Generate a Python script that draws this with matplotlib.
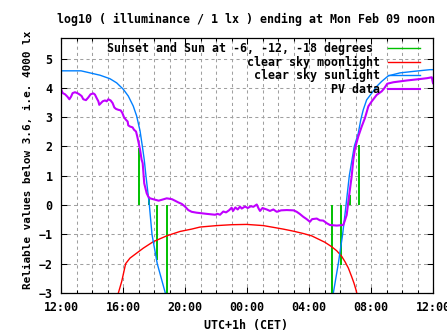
import numpy as np
import matplotlib
matplotlib.use("Agg")
import matplotlib.pyplot as plt
from matplotlib.lines import Line2D

# ---------------- data (hours since midnight of previous day; 24 = 00:00) -------------
tick_hours = [12, 16, 20, 24, 28, 32, 36]
tick_labels = ["12:00", "16:00", "20:00", "00:00", "04:00", "08:00", "12:00"]

pv_hours = [12.00, 12.11, 12.26, 12.41, 12.54, 12.65, 12.75, 12.90, 13.05, 13.18,
            13.33, 13.44, 13.61, 13.76, 13.91, 14.09, 14.19, 14.30, 14.41, 14.47,
            14.58, 14.69, 14.84, 14.95, 15.05, 15.20, 15.33, 15.44, 15.55, 15.70,
            15.85, 15.96, 16.06, 16.19, 16.30, 16.34, 16.45, 16.62, 16.71, 16.84,
            16.92, 17.01, 17.10, 17.20, 17.27, 17.37, 17.53, 17.63, 17.74, 17.95,
            18.30, 18.50, 18.82, 19.16, 19.35, 19.57, 19.79, 20.00, 20.21, 20.43,
            20.75, 21.08, 21.40, 21.94, 22.10, 22.26, 22.47, 22.65, 22.86, 23.01,
            23.10, 23.25, 23.40, 23.55, 23.66, 23.87, 24.05, 24.25, 24.41, 24.63,
            24.75, 24.84, 25.00, 25.10, 25.27, 25.48, 25.70, 25.92, 26.20, 26.56,
            27.00, 27.21, 27.40, 27.63, 27.85, 28.06, 28.20, 28.50, 28.70, 28.92,
            29.15, 29.35, 29.79, 30.21, 30.30, 30.43, 30.58, 30.75, 30.86, 30.97,
            31.18, 31.40, 31.61, 31.83, 32.05, 32.37, 32.69, 32.85, 33.05, 33.44,
            34.30, 35.16, 35.63, 35.92, 36.00]
pv_values = [3.96, 3.82, 3.78, 3.70, 3.61, 3.70, 3.82, 3.85, 3.82, 3.78,
             3.72, 3.61, 3.58, 3.67, 3.78, 3.81, 3.77, 3.65, 3.54, 3.42,
             3.48, 3.54, 3.57, 3.54, 3.61, 3.57, 3.48, 3.33, 3.28, 3.25,
             3.23, 3.14, 3.00, 2.91, 2.85, 2.72, 2.68, 2.65, 2.57, 2.51,
             2.34, 2.12, 1.89, 1.55, 1.43, 0.74, 0.40, 0.29, 0.23, 0.20,
             0.15, 0.18, 0.23, 0.20, 0.15, 0.09, 0.04, -0.05, -0.17, -0.23,
             -0.26, -0.28, -0.30, -0.33, -0.30, -0.33, -0.22, -0.25, -0.17, -0.09,
             -0.20, -0.08, -0.15, -0.05, -0.12, -0.05, -0.10, -0.04, -0.06, 0.02,
             -0.12, -0.20, -0.10, -0.12, -0.15, -0.20, -0.15, -0.23, -0.18, -0.17,
             -0.18, -0.23, -0.30, -0.40, -0.48, -0.57, -0.48, -0.46, -0.52, -0.53,
             -0.62, -0.68, -0.70, -0.68, -0.55, -0.34, 0.29, 0.97, 1.55, 1.94,
             2.34, 2.68, 2.97, 3.37, 3.54, 3.76, 3.88, 3.98, 4.14, 4.19,
             4.25, 4.30, 4.33, 4.36, 4.16]

sun_hours = [12.00, 13.29, 13.87, 14.52, 15.16, 15.59, 16.02, 16.34, 16.66, 16.88,
             17.10, 17.25, 17.37, 17.48, 17.70, 17.87, 18.21, 18.73, 18.85,
             29.45, 29.57, 29.89, 30.17, 30.39, 30.60, 30.92, 31.18, 31.34, 31.50,
             31.72, 32.05, 32.37, 32.69, 33.12, 33.87, 34.73, 35.81, 36.00]
sun_values = [4.58, 4.58, 4.51, 4.43, 4.31, 4.17, 3.95, 3.72, 3.38, 3.04,
              2.53, 2.00, 1.55, 1.00, 0.00, -1.00, -2.00, -3.00, -3.60,
              -3.60, -3.00, -2.00, -1.00, 0.00, 1.00, 2.00, 2.45, 2.91, 3.25,
              3.59, 3.82, 4.05, 4.22, 4.41, 4.51, 4.56, 4.62, 4.62]

moon_hours = [15.55, 15.70, 15.92, 16.17, 16.45, 16.88, 17.31, 17.95, 18.82, 19.68,
              20.43, 20.97, 22.05, 23.01, 23.98, 25.05, 25.70, 26.34, 26.99, 27.63,
              28.17, 28.60, 29.03, 29.46, 29.79, 30.11, 30.32, 30.54, 30.75, 30.90,
              31.03, 31.08, 31.15]
moon_values = [-3.40, -3.00, -2.60, -2.00, -1.81, -1.64, -1.47, -1.25, -1.05, -0.90,
               -0.82, -0.75, -0.70, -0.67, -0.66, -0.70, -0.76, -0.82, -0.89, -0.97,
               -1.05, -1.16, -1.27, -1.42, -1.56, -1.75, -1.93, -2.15, -2.44, -2.66,
               -2.89, -3.00, -3.30]

twilight_hours = [17.05, 17.66, 18.21, 18.86, 29.46, 30.05, 30.65, 31.25]
twilight_tops = [1.95, 0.28, -1.88, -3.50, -3.50, -2.05, 0.35, 2.05]

labels = ["Sunset and Sun at -6, -12, -18 degrees ", "clear sky moonlight",
          "clear sky sunlight", "PV data"]

# ---------------- style ----------------
plt.rcParams['font.family'] = ['DejaVu Sans Mono']
plt.rcParams['font.weight'] = 'bold'
FS = 8.35
C_GREEN, C_RED, C_BLUE, C_PV = "#00c000", "#ff0000", "#0080ff", "#c000ff"

W, H = 447, 335
fig = plt.figure(figsize=(W / 100, H / 100), dpi=100)
L, R, T, B = 61, 433, 38, 293
ax = fig.add_axes([L / W, 1 - B / H, (R - L) / W, (B - T) / H])

ax.set_xlim(12, 36)
ax.set_ylim(-3, 5.7)

ax.vlines(twilight_hours, 0, twilight_tops, color=C_GREEN, lw=1.4)
ax.plot(moon_hours, moon_values, color=C_RED, lw=1.0)
ax.plot(sun_hours, sun_values, color=C_BLUE, lw=1.0)
ax.plot(pv_hours, pv_values, color=C_PV, lw=1.5)

ax.set_xticks(tick_hours, tick_labels)
ax.set_xticks(np.arange(12, 37, 1), minor=True)
ax.set_yticks(np.arange(-3, 6, 1))
ax.tick_params(which='both', direction='in', top=True, right=True, width=0.75,
               labelsize=FS, colors='black')
ax.tick_params(which='major', length=4)
ax.tick_params(which='minor', length=2.2)
ax.tick_params(axis='y', pad=6)
ax.tick_params(axis='x', pad=6)
for s in ax.spines.values():
    s.set_linewidth(0.9)

grid_kw = dict(color="#a0a0a0", linestyle=(0, (3, 3)), linewidth=0.75)
ax.grid(True, axis='x', which='both', **grid_kw)
ax.grid(True, axis='y', which='major', **grid_kw)
ax.set_axisbelow(True)

handles = [Line2D([], [], color=C_GREEN, lw=1.0),
           Line2D([], [], color=C_RED, lw=1.0),
           Line2D([], [], color=C_BLUE, lw=1.0),
           Line2D([], [], color=C_PV, lw=1.5)]
leg = ax.legend(handles, labels, loc='upper right', bbox_to_anchor=(0.965, 0.984),
                frameon=False, markerfirst=False, fontsize=FS, handlelength=2.75,
                handletextpad=0.7, labelspacing=0.04, borderpad=0, borderaxespad=0)

fig.text(246 / W, 1 - 19 / H, "log10 ( illuminance / 1 lx ) ending at Mon Feb 09 noon",
         ha='center', va='center', fontsize=FS, fontweight='bold')
fig.text(246 / W, 1 - 326 / H, "UTC+1h (CET)", ha='center', va='center',
         fontsize=FS, fontweight='bold')
fig.text(28 / W, 1 - 160 / H, "Reliable values below 3.6, i.e. 4000 lx",
         ha='center', va='center', rotation=90, fontsize=7.95, fontweight='bold')

fig.savefig("out.png", dpi=100)
